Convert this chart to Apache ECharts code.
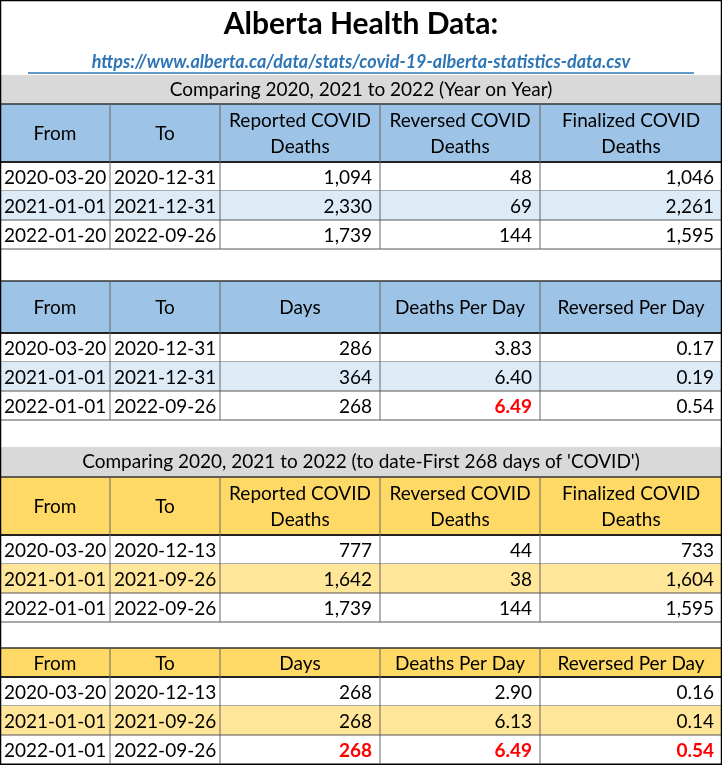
<!DOCTYPE html><html><head><meta charset="utf-8"><script src="https://cdn.jsdelivr.net/npm/echarts@6/dist/echarts.min.js"></script>
<style>html,body{margin:0;padding:0;background:#fff}#c{width:722px;height:765px}</style></head><body><div id="c"></div>
<script>
const title = 'Alberta Health Data:';
const link = 'https://www.alberta.ca/data/stats/covid-19-alberta-statistics-data.csv';
const band1 = 'Comparing 2020, 2021 to 2022 (Year on Year)';
const band2 = "Comparing 2020, 2021 to 2022 (to date-First 268 days of 'COVID')";
const headA = ['From','To','Reported COVID\nDeaths','Reversed COVID\nDeaths','Finalized COVID\nDeaths'];
const headB = ['From','To','Days','Deaths Per Day','Reversed Per Day'];
const t1From = ['2020-03-20','2021-01-01','2022-01-20'];
const t1To = ['2020-12-31','2021-12-31','2022-09-26'];
const t1Reported = ['1,094','2,330','1,739'];
const t1Reversed = ['48','69','144'];
const t1Final = ['1,046','2,261','1,595'];
const t2From = ['2020-03-20','2021-01-01','2022-01-01'];
const t2To = ['2020-12-31','2021-12-31','2022-09-26'];
const t2Days = ['286','364','268'];
const t2DPD = ['3.83','6.40','6.49'];
const t2RPD = ['0.17','0.19','0.54'];
const t3From = ['2020-03-20','2021-01-01','2022-01-01'];
const t3To = ['2020-12-13','2021-09-26','2022-09-26'];
const t3Reported = ['777','1,642','1,739'];
const t3Reversed = ['44','38','144'];
const t3Final = ['733','1,604','1,595'];
const t4Days = ['268','268','268'];
const t4DPD = ['2.90','6.13','6.49'];
const t4RPD = ['0.16','0.14','0.54'];

const colX = [0,110,220,380,540,722];
const F = 'Lato, "Noto Sans", sans-serif';
const els = [];
function rect(x,y,w,h,fill){els.push({type:'rect',shape:{x,y,width:w,height:h},style:{fill},silent:true});}
function line(x1,y1,x2,y2,c,w){els.push({type:'line',shape:{x1,y1,x2,y2},style:{stroke:c,lineWidth:w},silent:true});}
function text(t,x,y,align,opt){els.push({type:'text',x,y,style:Object.assign({text:t,font:'19px '+F,fill:'#000',align,verticalAlign:'middle',lineHeight:26},opt||{}),silent:true});}
function table(y0,hh,head,cols,hc,alt,red){
  const rh=29;
  rect(0,y0,722,hh,hc);
  for(let c=0;c<5;c++){ text(head[c],(colX[c]+colX[c+1])/2,y0+hh/2+1,'center'); }
  for(let r=0;r<3;r++){
    const y=y0+hh+r*rh;
    if(r===1) rect(0,y,722,rh,alt);
    for(let c=0;c<5;c++){
      const isRed = red[c] && r===2;
      const opt = isRed?{fill:'#ff0000',font:'bold 19px '+F}:{};
      if(c<2) text(cols[c][r],colX[c]+4,y+rh/2+1,'left',opt);
      else text(cols[c][r],colX[c+1]-8,y+rh/2+1,'right',opt);
    }
    line(0,y+rh,722,y+rh,'#555',1);
  }
  line(0,y0,722,y0,'#333',1.5);
  line(0,y0+hh,722,y0+hh,'#222',2);
  for(let c=1;c<5;c++) line(colX[c],y0,colX[c],y0+hh+3*rh,'#666',1);
}
text(title,361,24,'center',{font:'bold 30px '+F});
text(link,361,62,'center',{font:'italic bold 18px '+F,fill:'#2e75b6'});
line(28,73,694,73,'#2e75b6',1.5);
rect(0,75,722,29,'#d9d9d9'); text(band1,361,90,'center');
table(104,58,headA,[t1From,t1To,t1Reported,t1Reversed,t1Final],'#9dc3e6','#ddebf7',[0,0,0,0,0]);
table(281,52,headB,[t2From,t2To,t2Days,t2DPD,t2RPD],'#9dc3e6','#ddebf7',[0,0,0,1,0]);
rect(0,447,722,30,'#d9d9d9'); text(band2,361,462,'center');
table(477,58,headA,[t3From,t3To,t3Reported,t3Reversed,t3Final],'#ffd966','#ffe699',[0,0,0,0,0]);
table(648,29,headB,[t3From,t3To,t4Days,t4DPD,t4RPD],'#ffd966','#ffe699',[0,0,1,1,1]);
els.push({type:'rect',shape:{x:0.5,y:0.5,width:721,height:764},style:{fill:'none',stroke:'#000',lineWidth:1.5},silent:true});
const chart = echarts.init(document.getElementById('c'));
chart.setOption({animation:false,graphic:{elements:els}});
</script></body></html>
